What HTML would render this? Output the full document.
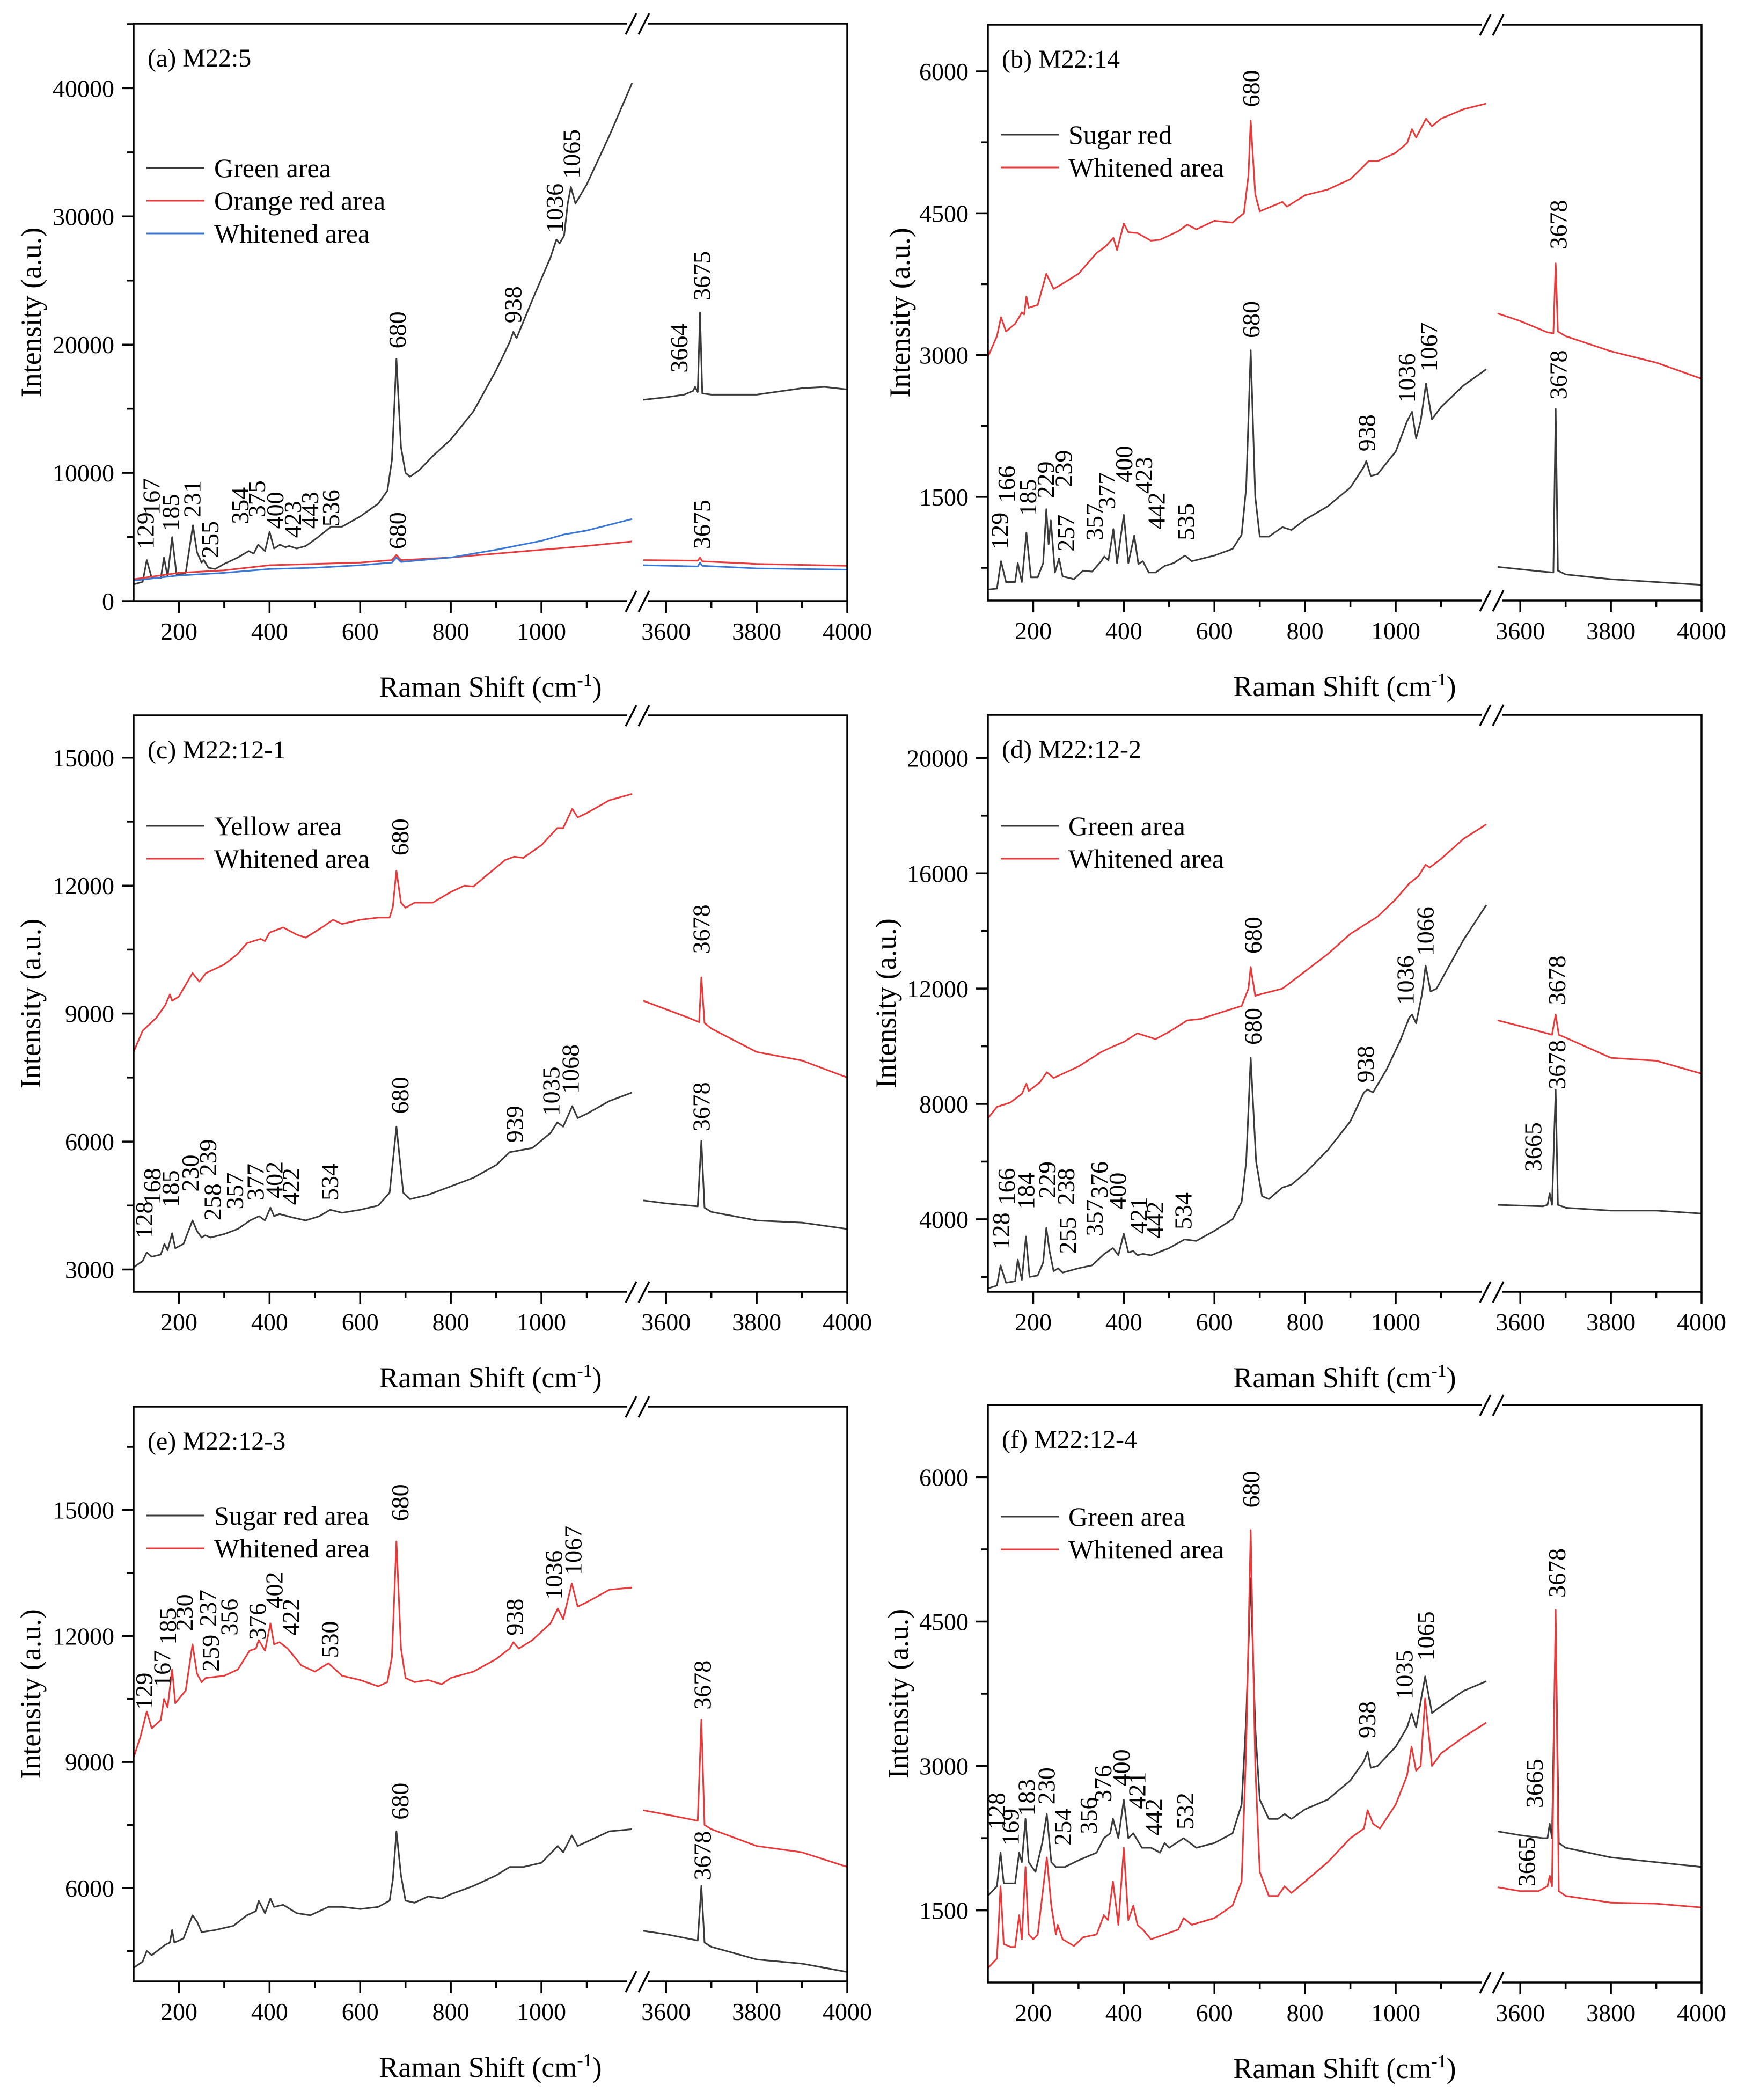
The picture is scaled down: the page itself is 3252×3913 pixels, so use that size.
<!DOCTYPE html>
<html><head><meta charset="utf-8">
<style>
html,body{margin:0;padding:0;background:#fff;font-family:"Liberation Serif","DejaVu Serif",serif;}
svg{display:block;}
svg text{font-family:"Liberation Serif","DejaVu Serif",serif;}
</style></head>
<body>
<svg id="fig" xmlns="http://www.w3.org/2000/svg" width="3252" height="3913" viewBox="0 0 3252 3913" font-family="Liberation Serif, DejaVu Serif, serif"></svg>
<script>
// ---------- Panel (a) ----------
const aGreenX=[100,120,129,140,160,167,175,185,195,215,231,240,250,255,265,280,300,330,354,365,375,390,400,410,423,435,443,460,480,500,536,560,600,640,660,670,680,690,700,710,730,760,800,850,900,930,938,945,980,1020,1033,1040,1050,1058,1065,1075,1100,1150,1200,3550,3600,3640,3660,3664,3670,3675,3680,3700,3800,3900,3950,4000];
const aGreenY=[1300,1500,3200,1800,1800,3400,1900,5000,2000,2200,5900,3800,3000,3200,2600,2500,2900,3400,3900,3700,4400,3900,5400,4100,4400,4200,4300,4100,4300,4800,5800,5800,6600,7600,8600,11000,18900,12000,10000,9700,10200,11300,12600,14800,18000,20200,21000,20500,23500,26800,28200,27900,28500,31000,32300,31000,32500,36300,40400,15700,15900,16100,16400,16700,16300,22500,16200,16100,16100,16600,16700,16500];
const aRedX=[100,200,300,400,500,600,670,680,690,800,900,1000,1100,1200,3550,3670,3675,3680,3800,4000];
const aRedY=[1700,2200,2400,2800,2900,3000,3200,3600,3200,3400,3700,4000,4300,4650,3200,3150,3400,3100,2900,2750];
const aBlueX=[100,200,300,400,500,600,670,680,690,800,900,1000,1050,1100,1200,3550,3670,3675,3680,3800,4000];
const aBlueY=[1600,2000,2200,2500,2600,2800,3000,3400,3050,3400,4000,4700,5200,5500,6400,2800,2700,3000,2750,2550,2450];
const aLblT=["129","167","185","231","255","354","375","400","423","443","536","680","938","1036","1065","3664","3675","680","3675"];
const aLblX=[126,139,182,229,269,335,372,412,451,489,535,682,937,1029,1066,3629,3679,682,3679];
const aLblY=[4050,6700,5460,6520,3350,6000,6520,5640,4930,5640,5810,19700,21670,28720,32950,17800,23440,4050,4050];
const aYTicks=[0,10000,20000,30000,40000];

// ---------- Panel (b) ----------
const bSugarX=[100,120,129,140,160,166,175,185,195,210,222,229,234,239,248,257,265,290,310,330,350,357,366,377,385,400,410,423,432,442,455,470,490,510,535,550,600,640,660,670,680,690,700,720,750,770,800,850,900,930,935,945,960,1000,1025,1036,1045,1055,1067,1080,1100,1150,1200,3550,3650,3673,3678,3683,3700,3800,4000];
const bSugarY=[520,530,820,600,600,800,600,1120,650,650,800,1370,1000,1250,700,850,660,630,720,710,820,870,830,1160,800,1310,800,1090,790,820,700,700,770,800,880,820,880,950,1100,1600,3050,1500,1080,1080,1180,1150,1260,1400,1600,1820,1880,1720,1740,1980,2300,2400,2120,2300,2700,2320,2450,2680,2850,760,710,700,2430,720,680,630,570];
const bWhiteX=[100,120,129,140,160,175,180,185,190,210,229,245,260,300,340,360,377,385,400,410,430,460,480,520,540,560,600,640,665,675,680,690,700,750,760,800,850,900,930,940,960,1000,1025,1036,1045,1067,1080,1100,1150,1200,3550,3600,3660,3673,3678,3683,3700,3800,3900,4000];
const bWhiteY=[2980,3200,3400,3250,3330,3450,3430,3620,3500,3530,3860,3700,3740,3860,4080,4150,4240,4110,4390,4300,4290,4210,4220,4310,4380,4330,4420,4400,4500,4900,5480,4700,4520,4620,4570,4690,4750,4860,5000,5050,5050,5140,5240,5390,5300,5500,5420,5500,5600,5660,3440,3360,3240,3230,3970,3250,3200,3040,2920,2750];
const bLblT=["129","166","185","229","239","257","357","377","400","423","442","535","680","938","1036","1067","680","3678","3678"];
const bLblX=[126,141,188,227,267,272,335,362,400,444,472,537,681,936,1024,1073,681,3684,3684];
const bLblY=[945,1438,1298,1486,1603,922,1040,1370,1650,1533,1157,1040,3180,1980,2496,2826,5624,4119,2530];
const bYTicks=[1500,3000,4500,6000];

// ---------- Panel (c) ----------
const cYellowX=[100,120,129,140,160,168,175,185,192,210,230,240,250,258,270,300,330,357,377,390,402,410,422,450,480,510,534,560,600,640,665,680,695,710,750,800,850,900,930,945,980,1020,1035,1048,1068,1080,1100,1150,1200,3550,3600,3670,3678,3685,3700,3800,3900,4000];
const cYellowY=[3050,3200,3400,3300,3350,3600,3450,3850,3500,3600,4150,3900,3750,3800,3750,3830,3950,4150,4250,4150,4450,4250,4300,4220,4150,4250,4400,4330,4400,4500,4800,6350,4800,4650,4750,4950,5150,5450,5750,5780,5850,6200,6450,6350,6830,6550,6650,6950,7150,4620,4550,4480,6020,4450,4350,4150,4100,3950];
const cWhiteX=[100,120,150,170,180,185,200,230,245,260,300,330,350,380,390,400,430,460,480,520,540,560,600,640,665,672,680,690,700,720,760,800,830,850,880,920,940,960,1000,1035,1048,1068,1080,1100,1150,1200,3550,3600,3650,3673,3678,3685,3700,3800,3900,4000];
const cWhiteY=[8100,8600,8900,9200,9450,9300,9400,9950,9750,9950,10150,10400,10650,10750,10700,10900,11020,10850,10780,11050,11200,11100,11200,11250,11250,11500,12350,11600,11480,11600,11600,11850,12000,11980,12250,12600,12680,12650,12950,13350,13350,13800,13600,13700,14000,14150,9300,9100,8900,8800,9850,8780,8650,8100,7900,7500];
const cLblT=["128","168","185","230","239","258","357","377","402","422","534","680","939","1035","1068","680","3678","3678"];
const cLblX=[123,141,181,225,264,274,323,369,410,447,533,688,941,1021,1064,688,3678,3678];
const cLblY=[3730,4513,4461,4826,5191,4148,4409,4617,4670,4513,4617,6652,5974,6600,7122,12704,10400,6235];
const cYTicks=[3000,6000,9000,12000,15000];

// ---------- Panel (d) ----------
const dGreenX=[100,120,128,140,160,166,175,184,192,210,222,229,236,245,255,265,300,330,357,376,388,400,410,421,430,442,460,500,534,560,600,640,660,670,680,692,705,720,750,770,800,850,900,930,938,950,980,1010,1030,1036,1045,1058,1066,1077,1090,1150,1200,3550,3650,3660,3665,3670,3678,3683,3700,3800,3900,4000];
const dGreenY=[1600,1700,2400,1800,1850,2600,1900,3400,2000,2050,2500,3700,2900,2200,2300,2150,2300,2400,2800,3000,2750,3500,2850,2900,2750,2800,2750,3000,3300,3250,3600,4000,4600,6000,9600,6000,4800,4700,5100,5200,5600,6400,7400,8400,8500,8400,9200,10200,11000,11100,10800,11800,12800,11900,12000,13700,14900,4500,4450,4500,4900,4500,8500,4500,4400,4300,4300,4200];
const dWhiteX=[100,120,150,175,185,190,215,230,245,300,350,370,400,430,470,500,540,570,620,660,675,680,690,700,750,800,850,900,930,960,1000,1030,1050,1066,1075,1100,1150,1200,3550,3600,3670,3678,3685,3700,3800,3900,4000];
const dWhiteY=[7500,7900,8050,8350,8700,8450,8750,9100,8900,9300,9800,9950,10150,10450,10250,10500,10900,10950,11200,11400,12000,12750,11750,11800,12000,12600,13200,13900,14200,14500,15100,15650,15900,16300,16200,16500,17200,17700,10900,10700,10400,11100,10400,10300,9600,9500,9050];
const dLblT=["128","166","184","229","238","255","357","376","400","421","442","534","680","938","1036","1066","680","3665","3678","3678"];
const dLblX=[129,141,184,231,272,276,335,346,386,433,469,531,685,933,1021,1065,685,3628,3681,3681];
const dLblY=[2950,4493,4339,4724,4493,2797,3414,4724,4339,3491,3336,3645,10048,8736,11436,13133,13211,5651,8505,11436];
const dYTicks=[4000,8000,12000,16000,20000];

// ---------- Panel (e) ----------
const eSugarX=[100,120,129,140,170,180,185,190,210,230,240,250,280,320,350,370,376,390,402,410,430,460,490,530,560,600,640,665,672,680,690,700,720,750,780,800,850,900,930,960,1000,1036,1048,1067,1080,1100,1150,1200,3550,3600,3670,3678,3685,3700,3800,3900,4000];
const eSugarY=[4100,4250,4500,4400,4650,4700,5000,4700,4800,5350,5200,4950,5000,5100,5350,5450,5700,5400,5750,5550,5600,5400,5350,5550,5550,5500,5550,5700,6200,7350,6300,5700,5650,5800,5750,5850,6050,6300,6500,6500,6600,7000,6850,7250,7000,7100,7350,7400,4980,4900,4750,6050,4700,4600,4300,4200,4000];
const eWhiteX=[100,115,129,140,160,167,175,185,192,215,230,240,250,259,300,330,356,370,376,390,402,410,422,440,470,500,530,560,600,640,660,670,680,690,700,720,750,780,800,850,900,930,938,950,980,1020,1036,1048,1067,1080,1100,1150,1200,3550,3600,3670,3678,3685,3700,3800,3900,4000];
const eWhiteY=[9100,9600,10200,9800,10000,10500,10300,11200,10400,10700,11800,11100,10900,11000,11050,11200,11650,11700,11900,11650,12300,11800,11850,11700,11300,11150,11350,11050,10950,10800,10900,11500,14250,11700,11000,10900,10950,10850,11000,11150,11450,11700,11850,11700,11900,12300,12650,12400,13250,12700,12800,13100,13150,7850,7750,7600,10000,7500,7400,7000,6850,6500];
const eLblT=["129","167","185","230","237","259","356","376","402","422","530","680","938","1036","1067","680","3678","3678"];
const eLblX=[123,163,175,212,264,270,311,373,410,447,533,688,941,1027,1070,688,3680,3680];
const eLblY=[10244,10779,11793,12114,12221,11152,12007,11901,12649,12007,11473,14733,12007,12863,13450,7626,10244,6183];
const eYTicks=[6000,9000,12000,15000];

// ---------- Panel (f) ----------
const fGreenX=[100,120,128,135,160,169,175,183,190,205,220,230,240,250,270,300,340,356,370,376,388,400,410,421,440,460,480,490,500,532,560,600,640,660,670,680,690,700,720,740,755,770,800,850,900,930,938,945,960,1000,1025,1035,1045,1065,1080,1100,1150,1200,3550,3600,3650,3660,3665,3670,3678,3685,3700,3800,3900,4000];
const fGreenY=[1650,1750,2100,1780,1780,2100,2000,2450,2000,1900,2200,2500,2000,1950,1950,2020,2100,2250,2300,2450,2250,2650,2250,2300,2150,2150,2100,2200,2150,2250,2150,2200,2300,2600,3500,4950,3400,2650,2450,2450,2500,2450,2550,2650,2850,3050,3150,2980,3000,3200,3400,3550,3400,3930,3550,3620,3780,3880,2320,2280,2250,2250,2400,2250,4500,2200,2150,2050,2000,1950];
const fWhiteX=[100,120,128,135,150,160,169,175,183,190,200,210,230,240,250,254,265,290,310,340,356,365,376,388,400,410,421,430,442,460,490,520,532,550,600,640,660,670,680,690,700,720,740,755,770,800,850,900,930,938,950,965,1000,1025,1035,1045,1055,1065,1080,1100,1150,1200,3550,3600,3640,3660,3665,3670,3678,3685,3700,3800,3900,4000];
const fWhiteY=[900,1000,1750,1150,1120,1120,1450,1200,1950,1250,1200,1250,2050,1550,1250,1350,1200,1130,1220,1250,1450,1400,1800,1350,2150,1400,1550,1350,1300,1200,1250,1300,1420,1350,1420,1550,1800,3200,5450,3000,1900,1650,1650,1750,1680,1800,2000,2250,2350,2540,2400,2350,2600,2900,3200,2950,3000,3700,3000,3130,3300,3450,1740,1700,1700,1750,1860,1750,4620,1700,1650,1580,1570,1530];
const fLblT=["128","169","183","230","254","356","376","400","421","442","532","680","938","1035","1065","3665","3665","3678"];
const fLblX=[119,150,185,229,265,322,354,394,429,466,535,681,937,1019,1066,3631,3614,3681];
const fLblY=[2339,2173,2481,2600,2173,2292,2624,2789,2553,2278,2339,5682,3287,3691,4094,2562,1747,4748];
const fYTicks=[1500,3000,4500,6000];

const xTicksLeft=[200,400,600,800,1000];
const xTicksRight=[3600,3800,4000];

const BLACK="#3a3a3a", RED="#e8393b", BLUE="#3a78d8";
const FONT="Liberation Serif, DejaVu Serif, serif";
const W=1330, K=0.8445;
const panels=[
 {id:"a",L:249,T:44,B:1120,ymin:0,ymax:45040,yt:aYTicks,minor:5000,title:"(a)  M22:5",ytx:58,
  series:[{n:"Green area",c:BLACK,x:aGreenX,y:aGreenY},{n:"Orange red area",c:RED,x:aRedX,y:aRedY},{n:"Whitened area",c:BLUE,x:aBlueX,y:aBlueY}],
  lt:aLblT,lx:aLblX,ly:aLblY,leg:269},
 {id:"b",L:1841,T:46,B:1119,ymin:404,ymax:6494,yt:bYTicks,minor:750,title:"(b)  M22:14",ytx:1677,
  series:[{n:"Sugar red",c:BLACK,x:bSugarX,y:bSugarY},{n:"Whitened area",c:RED,x:bWhiteX,y:bWhiteY}],
  lt:bLblT,lx:bLblX,ly:bLblY,leg:205},
 {id:"c",L:249,T:1333,B:2407,ymin:2478,ymax:15991,yt:cYTicks,minor:1500,title:"(c)  M22:12-1",ytx:57,
  series:[{n:"Yellow area",c:BLACK,x:cYellowX,y:cYellowY},{n:"Whitened area",c:RED,x:cWhiteX,y:cWhiteY}],
  lt:cLblT,lx:cLblX,ly:cLblY,leg:206},
 {id:"d",L:1841,T:1332,B:2407,ymin:1485,ymax:21497,yt:dYTicks,minor:2000,title:"(d)  M22:12-2",ytx:1651,
  series:[{n:"Green area",c:BLACK,x:dGreenX,y:dGreenY},{n:"Whitened area",c:RED,x:dWhiteX,y:dWhiteY}],
  lt:dLblT,lx:dLblX,ly:dLblY,leg:207},
 {id:"e",L:249,T:2621,B:3692,ymin:3777,ymax:17458,yt:eYTicks,minor:1500,title:"(e)  M22:12-3",ytx:57,
  series:[{n:"Sugar red area",c:BLACK,x:eSugarX,y:eSugarY},{n:"Whitened area",c:RED,x:eWhiteX,y:eWhiteY}],
  lt:eLblT,lx:eLblX,ly:eLblY,leg:203},
 {id:"f",L:1841,T:2618,B:3694,ymin:751,ymax:6749,yt:fYTicks,minor:750,title:"(f)  M22:12-4",ytx:1674,
  series:[{n:"Green area",c:BLACK,x:fGreenX,y:fGreenY},{n:"Whitened area",c:RED,x:fWhiteX,y:fWhiteY}],
  lt:fLblT,lx:fLblX,ly:fLblY,leg:208}
];
const NS="http://www.w3.org/2000/svg";
const svg=document.getElementById("fig");
function mk(tag,attrs,parent){const e=document.createElementNS(NS,tag);for(const k in attrs)e.setAttribute(k,attrs[k]);if(tag==="text")e.setAttribute("font-family",FONT);parent.appendChild(e);return e;}

panels.forEach(p=>{
  const g=mk("g",{},svg);
  
  
  const xs=v=> v<=1200 ? p.L+(v-100)*K : p.L+950+(v-3550)*K;
  const ys=v=> p.B-(v-p.ymin)/(p.ymax-p.ymin)*(p.B-p.T);
  p.series.forEach((s,si)=>{
    let d="",prev=null;
    for(let i=0;i<s.x.length;i++){
      const seg=s.x[i]>2000?1:0;
      d+=(prev===null||seg!==prev?"M":"L")+xs(s.x[i]).toFixed(1)+" "+ys(s.y[i]).toFixed(1)+" ";
      prev=seg;
    }
    const path=mk("path",{d:d,fill:"none",stroke:s.c,"stroke-width":3,"stroke-linejoin":"round"},g);
    
    
  });
  const fr=mk("rect",{x:p.L,y:p.T,width:W,height:p.B-p.T,fill:"none",stroke:"#000","stroke-width":3.5},g);
  
  
  [p.T,p.B].forEach(yy=>{
    mk("rect",{x:p.L+920,y:yy-3,width:38,height:6,fill:"#fff"},g);
    [0,24].forEach(o=>{
      const l=mk("line",{x1:p.L+917+o,y1:yy+20,x2:p.L+937+o,y2:yy-19,stroke:"#000","stroke-width":3.5},g);
      
      
    });
  });
  for(let v=200;v<=1100;v+=100){
    const major=v%200===0;
    mk("line",{x1:xs(v),y1:p.B,x2:xs(v),y2:p.B+(major?22:12),stroke:"#000","stroke-width":3.5},g);
  }
  for(let v=3600;v<=4000;v+=100){
    const major=v%200===0;
    mk("line",{x1:xs(v),y1:p.B,x2:xs(v),y2:p.B+(major?22:12),stroke:"#000","stroke-width":3.5},g);
  }
  xTicksLeft.concat(xTicksRight).forEach(v=>{
    const t=mk("text",{x:xs(v),y:p.B+72,"text-anchor":"middle","font-size":46,fill:"#000"},g);
    t.textContent=v;
    
    
  });
  for(let v=Math.ceil(p.ymin/p.minor)*p.minor;v<=p.ymax;v+=p.minor){
    const major=p.yt.indexOf(v)>=0;
    mk("line",{x1:p.L,y1:ys(v),x2:p.L-(major?22:12),y2:ys(v),stroke:"#000","stroke-width":3.5},g);
  }
  p.yt.forEach(v=>{
    const t=mk("text",{x:p.L-36,y:ys(v)+16,"text-anchor":"end","font-size":46,fill:"#000"},g);
    t.textContent=v;
    
    
  });
  const xt=mk("text",{x:p.L+W/2,y:p.B+178,"text-anchor":"middle","font-size":54,fill:"#000"},g);
  xt.innerHTML='Raman Shift (cm<tspan dy="-20" font-size="34">-1</tspan><tspan dy="20">)</tspan>';
  
  
  const yc=(p.T+p.B)/2;
  const yt=mk("text",{x:p.ytx,y:yc,"text-anchor":"middle","dominant-baseline":"central","font-size":54,fill:"#000",transform:"rotate(-90 "+p.ytx+" "+yc+")"},g);
  yt.textContent="Intensity (a.u.)";
  
  
  const tt=mk("text",{x:p.L+26,y:p.T+80,"font-size":48,fill:"#000"},g);
  tt.setAttribute("xml:space","preserve");
  tt.textContent=p.title;
  
  
  p.series.forEach((s,i)=>{
    const yy=p.T+p.leg+i*61;
    const ll=mk("line",{x1:p.L+24,y1:yy,x2:p.L+132,y2:yy,stroke:s.c,"stroke-width":3},g);
    
    
    const lt=mk("text",{x:p.L+150,y:yy+17,"font-size":50,fill:"#000"},g);
    lt.textContent=s.n;
    
    
  });
  p.lt.forEach((txt,i)=>{
    const x=xs(p.lx[i]), y=ys(p.ly[i]);
    const t=mk("text",{x:x,y:y,"font-size":46,fill:"#000","dominant-baseline":"central",transform:"rotate(-90 "+x.toFixed(1)+" "+y.toFixed(1)+")"},g);
    t.textContent=txt;
    
    
  });
});
</script>
</body></html>
